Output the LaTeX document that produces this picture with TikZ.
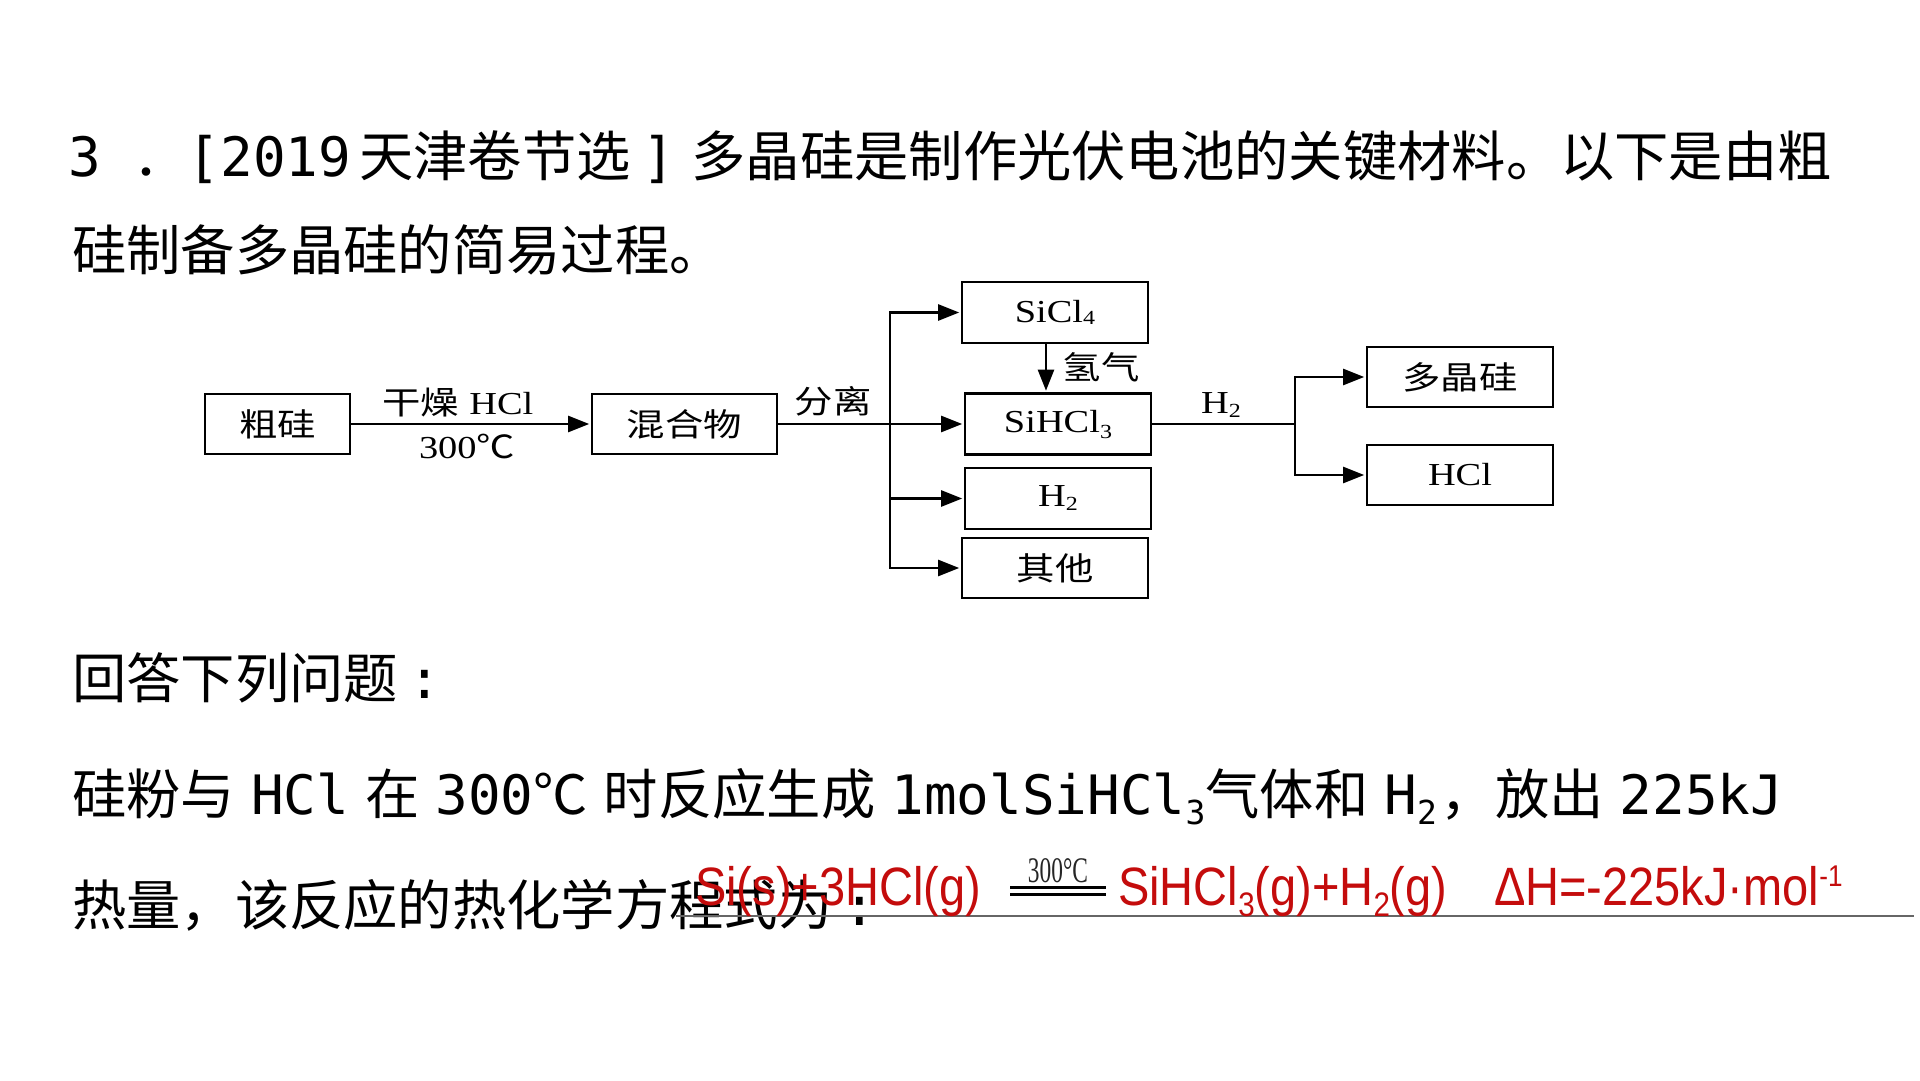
\documentclass[tikz,border=0pt]{standalone}
\usepackage{fontspec}
\setmainfont{Noto Sans CJK SC}
\newfontfamily\mono{DejaVu Sans Mono}
\newfontfamily\dcjk[FakeStretch=1.2]{Noto Sans CJK SC}
\newfontfamily\dser[FakeStretch=1.2]{Liberation Serif}
\newfontfamily\redf[FakeStretch=0.87]{Liberation Sans}
\newfontfamily\tinyf[FakeStretch=0.65]{Liberation Serif}
\usetikzlibrary{arrows.meta}
\definecolor{eqred}{RGB}{196,12,12}
\newcommand{\M}[1]{{\mono #1}}
\newcommand{\G}{\hspace{16pt}}
\newcommand{\MS}[1]{\raisebox{-10pt}{\mono\fontsize{33}{33}\selectfont #1}}
\newcommand{\DC}[1]{{\dcjk\fontsize{32}{34}\selectfont #1}}
\newcommand{\DL}[1]{{\dser\fontsize{32}{34}\selectfont #1}}
\newcommand{\DSub}[2][-4pt]{\raisebox{#1}{\dser\fontsize{20}{20}\selectfont #2}}
\newcommand{\RS}[1]{\raisebox{-11pt}{\fontsize{34}{34}\selectfont #1}}
\newcommand{\RP}[1]{\raisebox{19pt}{\fontsize{30}{30}\selectfont #1}}
\begin{document}
\begin{tikzpicture}[x=1pt,y=-1pt,
  title/.style={anchor=base west, inner sep=0pt, font=\fontsize{54.3}{60}\selectfont},
  box/.style={draw, line width=2.6pt, minimum width=186pt, minimum height=60pt, inner sep=0pt},
  dlab/.style={inner sep=0pt},
  conn/.style={line width=2.4pt},
  arr/.style={conn, -{Triangle[length=21pt,width=16pt]}, shorten >=1.5pt},
  eq/.style={anchor=base west, inner sep=0pt, text=eqred, font=\redf\fontsize{54}{60}\selectfont},
]
\useasboundingbox[fill=white] (0,0) rectangle (1920,1080);

% question text
\node[title] (t1) at (68,176) {\M{3 }．\M{[2019}\hspace{8pt}天津卷节选\hspace{12pt}\M{]}\hspace{16pt}多晶硅是制作光伏电池的关键材料。以下是由粗};
\node[title] (t2) at (72,270) {硅制备多晶硅的简易过程。};
\node[title] (t3) at (72,698) {回答下列问题\makebox[54.3pt]{\M{:}}};
\node[title] (t4) at (72,814) {硅粉与\G\M{HCl}\G 在\G\M{300}℃\G 时反应生成\G\M{1molSiHCl}\MS{3}气体和\G\M{H}\MS{2}\hspace{4pt}，放出\G\M{225kJ}};
\node[title] (t5) at (72,925) {热量，该反应的热化学方程式为\makebox[54.3pt]{\M{:}}};

% flow diagram boxes
\node[box, minimum width=145pt] (cu) at (277.5,424) {\DC{粗硅}};
\node[box, minimum width=185pt] (mix) at (684.5,424) {\DC{混合物}};
\node[box, minimum height=61pt] (sicl4) at (1055,312.5) {\DL{SiCl}\DSub[-2pt]{4}};
\node[box, minimum height=61pt] (sihcl3) at (1058,424) {\DL{SiHCl}\DSub[-6pt]{3}};
\node[box, minimum height=61pt] (h2) at (1058,498.5) {\DL{H}\DSub[-4pt]{2}};
\node[box] (other) at (1055,568) {\DC{其他}};
\node[box] (poly) at (1460,377) {\DC{多晶硅}};
\node[box] (hcl) at (1460,475) {\DL{HCl}};

% labels
\node[dlab] (lab1) at (458,403) {\DC{干燥}\hspace{10pt}\DL{HCl}};
\node[dlab] (lab2) at (467,446) {\DL{300}\DC{℃}};
\node[dlab] (lab3) at (833,401) {\DC{分离}};
\node[dlab] (lab4) at (1101,367) {\DC{氢气}};
\node[dlab] (lab5) at (1221,405) {\DL{H}\DSub[-4pt]{2}};

% connectors
\coordinate (tr) at (890,0);
\coordinate (rt) at (1295,0);
\draw[arr] (cu.east) -- (mix.west);
\draw[conn] (mix.east) -- (tr |- mix.east);
\draw[conn, line cap=rect] (tr |- sicl4.west) -- (tr |- other.west);
\draw[arr] (tr |- sicl4.west) -- (sicl4.west);
\draw[arr] (tr |- sihcl3.west) -- (sihcl3.west);
\draw[arr] (tr |- h2.west) -- (h2.west);
\draw[arr] (tr |- other.west) -- (other.west);
\draw[arr] ([xshift=-9pt]sicl4.south) -- ([xshift=-12pt]sihcl3.north);
\draw[conn] (sihcl3.east) -- (rt |- sihcl3.east);
\draw[conn, line cap=rect] (rt |- poly.west) -- (rt |- hcl.west);
\draw[arr] (rt |- poly.west) -- (poly.west);
\draw[arr] (rt |- hcl.west) -- (hcl.west);

% answer line and red equation
\draw[line width=1.6pt, black!60] (676,916) -- (1914,916);
\node[eq] (e1) at (695,905) {Si(s)+3HCl(g)};
\node[anchor=base, inner sep=0pt, text=black!85, font=\tinyf\fontsize{36}{36}\selectfont] (e0) at (1058,882) {300°C};
\draw[black, line width=2.4pt] (1010,887.5) -- (1106,887.5) (1010,894.5) -- (1106,894.5);
\node[eq] (e2) at (1118,905) {SiHCl\RS{3}(g)+H\RS{2}(g)};
\node[eq] (e3) at (1494,905) {ΔH=-225kJ·mol\RP{-1}};
\end{tikzpicture}
\end{document}
